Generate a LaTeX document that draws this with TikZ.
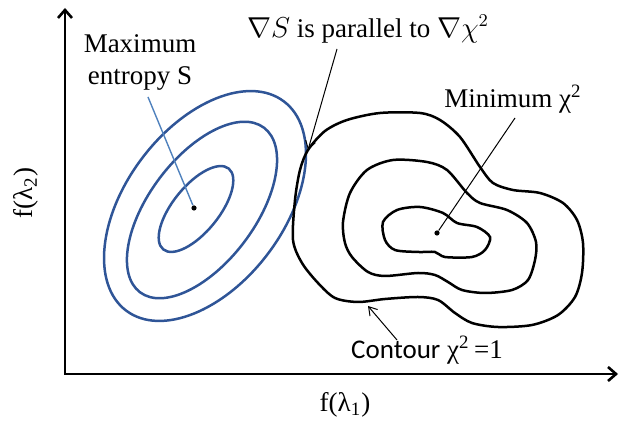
\documentclass[tikz,border=0pt]{standalone}
\usepackage{fontspec}
\setmainfont{Liberation Serif}
\newfontfamily\calibri{Carlito}
\usetikzlibrary{arrows.meta}
\definecolor{ellblue}{RGB}{47,85,151}
\definecolor{lineblue}{RGB}{79,129,189}
\tikzset{
	axisline/.style={line width=1.3pt,{Straight Barb[length=4pt,width=7pt]}-{Straight Barb[length=4pt,width=7pt]}},
	chicurve/.style={line width=1.25pt},
	scurve/.style={draw=ellblue,line width=1.25pt},
	pointer/.style={line width=0.5pt,-{Straight Barb[length=4pt,width=5pt]}},
	txt/.style={font=\fontsize{13.5}{16}\selectfont,inner sep=0pt},
	extremum/.style={circle,fill=black,inner sep=0pt,minimum size=2.6pt}
}

\begin{document}
\begin{tikzpicture}[x=0.5pt,y=-0.5pt]
	\useasboundingbox (0,0) rectangle (621,426);
	% axes
	\coordinate (O) at (65,374);
	\coordinate (ytip) at (65,8);
	\coordinate (xtip) at (618,374);
	\draw[axisline] (ytip) -- (O) -- (xtip);
	\node[txt] (xlab) at (345,405) {f(λ\textsubscript{1})};
	\node[txt,rotate=90] (ylab) at (26,193) {f(λ\textsubscript{2})};
	% entropy levels
	\draw[scurve] (205,206) ellipse [x radius=131,y radius=79,rotate=53];
	\draw[scurve] (202,210) ellipse [x radius=103,y radius=53,rotate=53];
	\draw[scurve] (196,209) ellipse [x radius=52,y radius=23,rotate=51];
	\node[txt,align=center] (maxS) at (140,62) {Maximum\\entropy S};
	\node[extremum] (sdot) at (194,208) {};
	\coordinate (maxS-foot) at (148,97);
	\draw[lineblue,line width=0.7pt] (maxS-foot) -- (sdot);
	% chi^2 contours
	\draw[chicurve] plot[smooth cycle] coordinates {(308,150) (325,131) (347,120) (380,113) (420,113) (440,120) (460,137) (480,167) (493,183) (513,190) (540,193) (563,203) (577,220) (583,243) (582,273) (575,297) (558,315) (532,325) (498,327) (472,323) (455,313) (438,300) (418,297) (385,299) (358,302) (335,298) (318,283) (302,263) (293,240) (295,200) (300,170)};
	\draw[chicurve] plot[smooth cycle] coordinates {(350,193) (367,170) (393,160) (427,162) (447,170) (467,193) (480,203) (507,210) (527,223) (536,242) (535,260) (528,280) (512,290) (485,293) (462,290) (448,282) (435,275) (418,273) (385,276) (368,272) (352,257) (345,243) (343,222)};
	\draw[chicurve] plot[smooth cycle] coordinates {(383,222) (397,210) (420,207) (443,213) (457,223) (477,227) (490,237) (485,250) (472,257) (445,257) (435,252) (418,252) (395,250) (385,240)};
	\node[txt] (minchi) at (513,99) {Minimum χ\textsuperscript{2}};
	\node[extremum] (chidot) at (437,233) {};
	\coordinate (minchi-foot) at (515,118);
	\draw[line width=0.5pt] (minchi-foot) -- (chidot);
	% tangency and contour labels
	\node[txt] (grad) at (368,29) {$\nabla S$ is parallel to $\nabla\chi^2$};
	\coordinate (grad-foot) at (337,49);
	\coordinate (touch) at (308,150);
	\draw[pointer] (grad-foot) -- (touch);
	\node[txt] (cont) at (427,350) {{\calibri Contour} χ\textsuperscript{2}\,=1};
	\coordinate (cont-foot) at (397,340);
	\coordinate (cont-tip) at (368,306);
	\draw[pointer] (cont-foot) -- (cont-tip);
\end{tikzpicture}
\end{document}
